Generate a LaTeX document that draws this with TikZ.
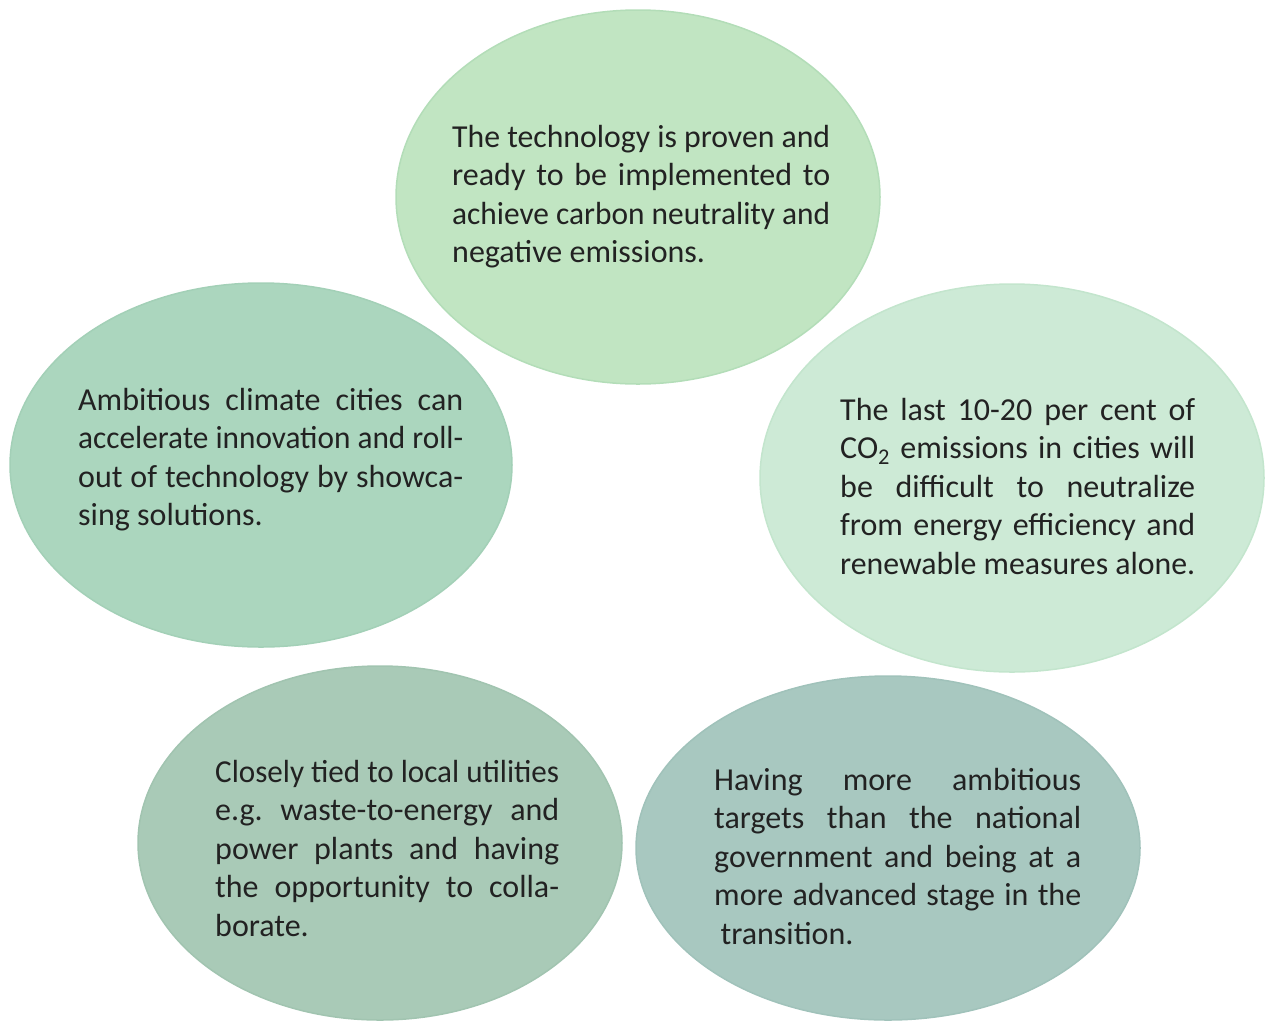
\documentclass[tikz,border=0pt]{standalone}
\usepackage{fontspec}
\usepackage{graphicx}
\setmainfont{Carlito}
\usetikzlibrary{shapes.geometric}
\definecolor{cTop}{HTML}{C1E5C2}
\definecolor{cTopB}{HTML}{B3DDB8}
\definecolor{cLeft}{HTML}{ABD6BE}
\definecolor{cLeftB}{HTML}{A3D0B7}
\definecolor{cRight}{HTML}{CDEAD6}
\definecolor{cRightB}{HTML}{C3E5CD}
\definecolor{cBL}{HTML}{A9CAB7}
\definecolor{cBLB}{HTML}{A1C4B0}
\definecolor{cBR}{HTML}{A8C8C0}
\definecolor{cBRB}{HTML}{A0C2BA}
\definecolor{txt}{HTML}{222222}
\newsavebox{\jlbox}
\newcommand{\rs}{\spaceskip=0pt\xspaceskip=0pt\frenchspacing}
\newcommand{\jl}[1]{\sbox{\jlbox}{\rs#1}%
  \ifdim\wd\jlbox>\linewidth\resizebox{\linewidth}{\height}{\rs#1}%
  \else\makebox[\linewidth][s]{\rs#1}\fi}
\tikzset{
  bubble/.style={ellipse, inner sep=0pt, line width=1.5pt},
  bubtext/.style={anchor=base west, inner sep=0pt, align=left, text=txt,
    font=\fontsize{32}{38.5}\selectfont},
}
\begin{document}
\begin{tikzpicture}[x=1pt,y=-1pt]
\useasboundingbox (0,0) rectangle (1266,1021);
\node[bubble, fill=cTop, draw=cTopB, minimum width=484pt, minimum height=374pt] (e1) at (638,197) {};
\node[bubble, fill=cLeft, draw=cLeftB, minimum width=502pt, minimum height=364pt] (e2) at (261,465) {};
\node[bubble, fill=cRight, draw=cRightB, minimum width=504pt, minimum height=388pt] (e3) at (1012,478) {};
\node[bubble, fill=cBL, draw=cBLB, minimum width=484pt, minimum height=354pt] (e4) at (380,843) {};
\node[bubble, fill=cBR, draw=cBRB, minimum width=504pt, minimum height=344pt] (e5) at (888,848) {};

\node[bubtext, text width=378pt] (t1) at (452,147) {\rs\jl{The technology is proven and}\\ \jl{ready to be implemented to}\\ \jl{achieve carbon neutrality and}\\ negative emissions.};
\node[bubtext, text width=385pt] (t2) at (78,410) {\rs\jl{Ambitious climate cities can}\\ \jl{accelerate innovation and roll-}\\ \jl{out of technology by showca-}\\ sing solutions.};
\node[bubtext, text width=355pt] (t3) at (840,420) {\rs\jl{The last 10-20 per cent of}\\ \jl{CO\textsubscript{2} emissions in cities will}\\ \jl{be difficult to neutralize}\\ \jl{from energy efficiency and}\\ \jl{renewable measures alone.}};
\node[bubtext, text width=344pt] (t4) at (215,782) {\rs\jl{Closely tied to local utilities}\\ \jl{e.g. waste-to-energy and}\\ \jl{power plants and having}\\ \jl{the opportunity to colla-}\\ borate.};
\node[bubtext, text width=367pt] (t5) at (714,790) {\rs\jl{Having more ambitious}\\ \jl{targets than the national}\\ \jl{government and being at a}\\ \jl{more advanced stage in the}\\ \hspace*{0.2em}transition.};
\end{tikzpicture}
\end{document}
